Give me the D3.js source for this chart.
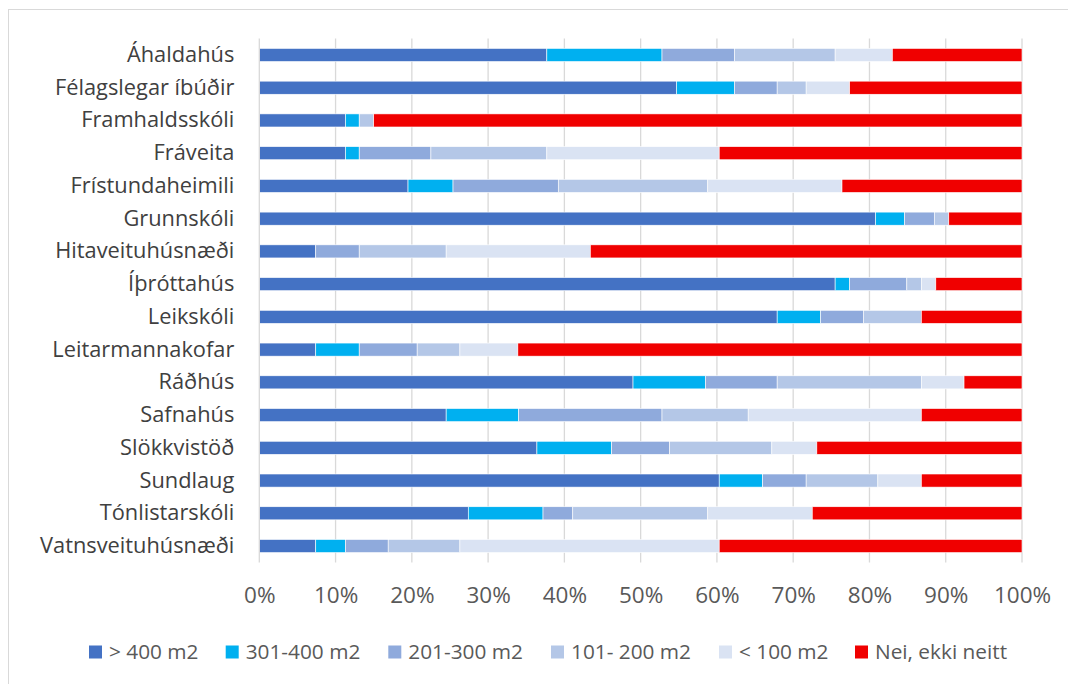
<!DOCTYPE html>
<html><head><meta charset="utf-8">
<script src="https://cdn.jsdelivr.net/npm/d3@7"></script>
<style>body{margin:0;background:#fff;} svg{display:block;}</style>
</head><body>
<script>
const categories = ["Áhaldahús","Félagslegar íbúðir","Framhaldsskóli","Fráveita","Frístundaheimili","Grunnskóli","Hitaveituhúsnæði","Íþróttahús","Leikskóli","Leitarmannakofar","Ráðhús","Safnahús","Slökkvistöð","Sundlaug","Tónlistarskóli","Vatnsveituhúsnæði"];
const seriesNames = ["> 400 m2","301-400 m2","201-300 m2","101- 200 m2","< 100 m2","Nei, ekki neitt"];
const seriesColors = ["#4472c4","#00b0f0","#8faadc","#b4c7e7","#dae3f3","#f00000"];
const s400 = [37.7,54.7,11.3,11.3,19.5,80.8,7.4,75.5,67.9,7.4,49.0,24.5,36.4,60.3,27.4,7.4];
const s301 = [15.1,7.6,1.8,1.8,5.9,3.8,0,1.9,5.7,5.7,9.5,9.5,9.8,5.7,9.8,3.9];
const s201 = [9.5,5.6,0,9.4,13.8,3.9,5.7,7.5,5.6,7.6,9.4,18.8,7.6,5.7,3.9,5.6];
const s101 = [13.2,3.8,1.9,15.2,19.6,1.9,11.4,1.9,7.6,5.6,18.9,11.3,13.4,9.4,17.7,9.4];
const s100 = [7.5,5.7,0,22.6,17.6,0,18.9,1.9,0,7.6,5.6,22.7,5.9,5.7,13.7,34.0];
const sNei = [17.0,22.6,85.0,39.7,23.6,9.6,56.6,11.3,13.2,66.1,7.6,13.2,26.9,13.2,27.5,39.7];
const tickValues = [0,0.1,0.2,0.3,0.4,0.5,0.6,0.7,0.8,0.9,1.0];

const W = 1068, H = 684;
const svg = d3.select("body").append("svg").attr("width", W).attr("height", H);
svg.append("rect").attr("x",8.5).attr("y",9.5).attr("width",1070).attr("height",680)
  .attr("fill","#fff").attr("stroke","#d9d9d9").attr("stroke-width",1);

const font = "'Open Sans', sans-serif";
const x0 = 259.3, x1 = 1022;
const x = d3.scaleLinear().domain([0,1]).range([x0,x1]);
const y = d3.scaleBand().domain(categories).range([38.6,562.4]).paddingInner(0.6).paddingOuter(0.3);

const rows = categories.map((c,i)=>{
  const vals=[s400[i],s301[i],s201[i],s101[i],s100[i],sNei[i]];
  const tot=d3.sum(vals); const o={cat:c};
  seriesNames.forEach((s,k)=>o[s]=vals[k]/tot); return o;});
const stacked = d3.stack().keys(seriesNames)(rows);

// gridlines
svg.append("g").selectAll("line").data(tickValues.slice(1)).join("line")
  .attr("x1",d=>x(d)).attr("x2",d=>x(d)).attr("y1",38.6).attr("y2",562.4)
  .attr("stroke","#d9d9d9").attr("stroke-width",1.3);

stacked.forEach((ser,k)=>{
  svg.append("g").attr("fill",seriesColors[k]).selectAll("rect").data(ser).join("rect")
    .attr("x",d=>x(d[0])).attr("width",d=>Math.max(0,x(d[1])-x(d[0])))
    .attr("y",d=>y(d.data.cat)).attr("height",y.bandwidth())
    .attr("stroke","#fff").attr("stroke-width",0.6);
});

// axis line
svg.append("line").attr("x1",x0).attr("x2",x0).attr("y1",38.6).attr("y2",562.4)
  .attr("stroke","#d9d9d9").attr("stroke-width",1.3);

// y labels
const yAxis = d3.axisLeft(y).tickSize(0).tickPadding(25);
const gy = svg.append("g").attr("transform",`translate(${x0},0)`).call(yAxis);
gy.select(".domain").remove();
gy.selectAll("text").attr("font-family",font).attr("font-size",21.8).attr("fill","#404040");

// x axis
const xAxis = d3.axisBottom(x).tickValues(tickValues).tickFormat(d3.format(".0%")).tickSize(0).tickPadding(25);
const gx = svg.append("g").attr("transform",`translate(0,562.4)`).call(xAxis);
gx.select(".domain").remove();
gx.selectAll("text").attr("font-family",font).attr("font-size",22.5).attr("fill","#595959");

// legend
const legX = [89,225.7,388.3,551,719,855];
const lg = svg.append("g");
seriesNames.forEach((s,k)=>{
  lg.append("rect").attr("x",legX[k]).attr("y",645.5).attr("width",13).attr("height",13).attr("fill",seriesColors[k]);
  lg.append("text").attr("x",legX[k]+20).attr("y",652).attr("dy","0.35em")
    .attr("font-family",font).attr("font-size",20.8).attr("fill","#595959").text(s);
});
</script>
</body></html>
